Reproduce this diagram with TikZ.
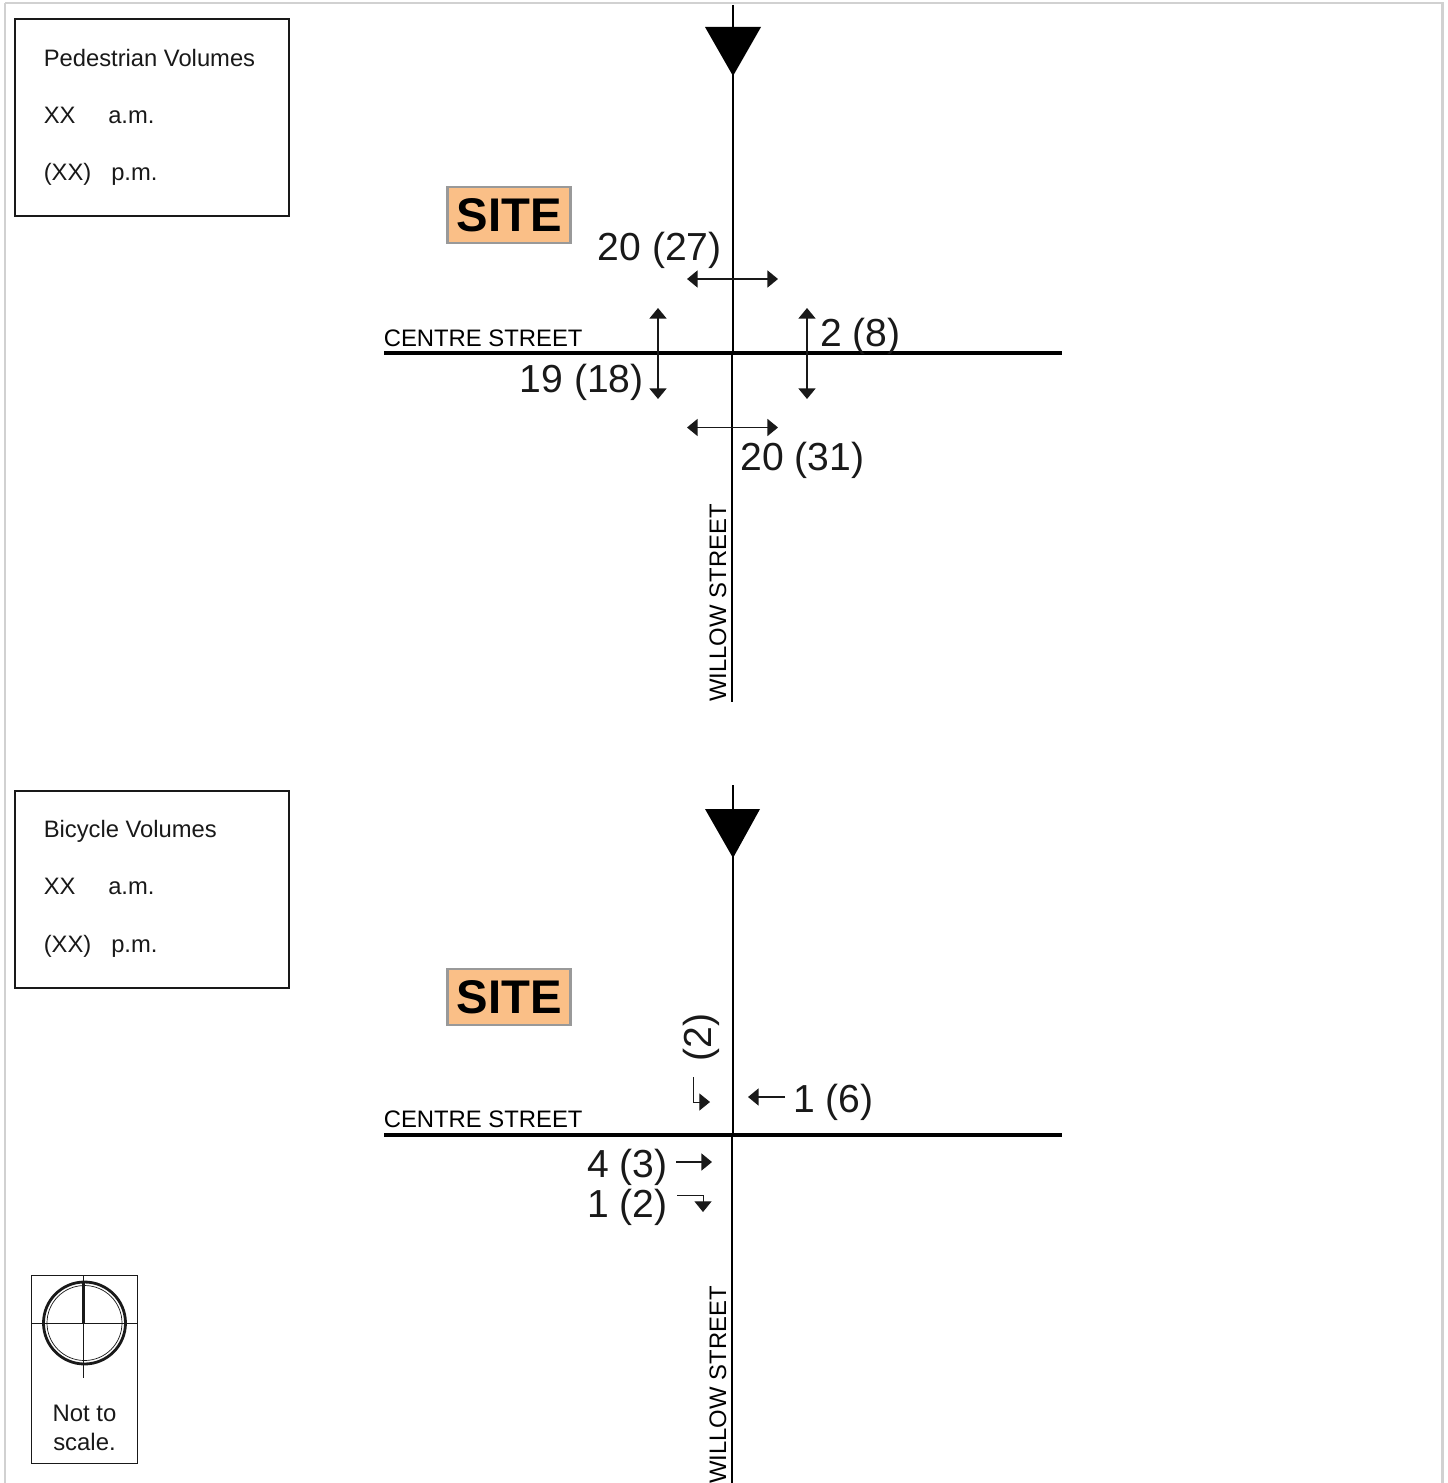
\documentclass[tikz,border=0pt]{standalone}
\usepackage{fontspec}
\setmainfont{Liberation Sans}
\usetikzlibrary{arrows.meta}
\definecolor{siteorange}{RGB}{250,191,135}
\tikzset{
    road/.style={line width=2.5pt, black},
    roadnarrow/.style={line width=2pt, black},
    flow/.style={line width=1.3pt, black!90, -{Triangle[length=7.5pt, width=12pt]}},
    flowboth/.style={line width=1.3pt, black!90, {Triangle[length=7.5pt, width=12pt]}-{Triangle[length=7.5pt, width=12pt]}},
    turnline/.style={line width=0.6pt, black!90, -{Triangle[length=7.5pt, width=12pt]}},
    count/.style={inner sep=0pt, font=\fontsize{27.8}{30}\selectfont, text=black!90},
    street/.style={inner sep=0pt, font=\fontsize{16.96}{20}\selectfont},
    legendtext/.style={inner sep=0pt, anchor=base west, font=\fontsize{16.9}{20}\selectfont, text=black!90},
    legendbox/.style={line width=1.4pt, black!90},
    sitebox/.style={draw=black!40, line width=1.7pt, fill=siteorange, minimum width=87.5pt, minimum height=40pt, inner sep=0pt, font=\fontsize{33.6}{36}\selectfont\bfseries},
    north/.style={fill=black, draw=none}
}
\begin{document}
\begin{tikzpicture}[x=0.025cm, y=-0.025cm]
    \useasboundingbox (0,0) rectangle (1447,1483);
    % Outer frame
    \draw[black!18, line width=1.9pt] (5,3) -- (1442.3,3) -- (1442.3,1483);
    \draw[black!18, line width=1.9pt] (5,3) -- (5,1483);

    % Pedestrian legend
    \draw[legendbox] (15,19) rectangle (289,216);
    \node[legendtext] (pedtitle) at (43.5,67) {Pedestrian Volumes};
    \node[legendtext] (pedam) at (43.5,124) {XX};
    \node[legendtext] (pedamlabel) at (108,124) {a.m.};
    \node[legendtext] (pedpm) at (43.5,181) {(XX)};
    \node[legendtext] (pedpmlabel) at (111,181) {p.m.};

    % Pedestrian intersection
    \draw[roadnarrow] (733,5) -- (733,353);
    \draw[roadnarrow] (732,353) -- (732,702);
    \draw[road] (384,353) -- (1062,353);
    \fill[north] (705,27) -- (761,27) -- (733,76) -- cycle;
    \node[sitebox] (sitetop) at (509,215) {SITE};
    \node[street, anchor=base west] (centretop) at (383.5,346) {CENTRE STREET};
    \node[street, anchor=base west, rotate=90] (willowtop) at (726,702) {WILLOW STREET};

    % Pedestrian crossings
    \draw[flowboth] (687,279) -- (778,279);
    \draw[flowboth] (687,427.5) -- (778,427.5);
    \draw[flowboth] (658,308) -- (658,399);
    \draw[flowboth] (807,308) -- (807,399);
    \node[count, anchor=base west] (pednorth) at (597.5,261) {20 (27)};
    \node[count, anchor=base west] (pedeast) at (820,346) {2 (8)};
    \node[count, anchor=base west] (pedwest) at (519.5,392) {19 (18)};
    \node[count, anchor=base west] (pedsouth) at (740,470) {20 (31)};

    % Bicycle legend
    \draw[legendbox] (15,791) rectangle (289,988);
    \node[legendtext] (biketitle) at (43.5,837) {Bicycle Volumes};
    \node[legendtext] (bikeam) at (43.5,894) {XX};
    \node[legendtext] (bikeamlabel) at (108,894) {a.m.};
    \node[legendtext] (bikepm) at (43.5,952) {(XX)};
    \node[legendtext] (bikepmlabel) at (111,952) {p.m.};

    % Bicycle intersection
    \draw[roadnarrow] (733,785) -- (733,1135);
    \draw[roadnarrow] (732,1135) -- (732,1483);
    \draw[road] (384,1135) -- (1062,1135);
    \fill[north] (705,809) -- (760,809) -- (733,858) -- cycle;
    \node[sitebox] (sitebottom) at (509,997) {SITE};
    \node[street, anchor=base west] (centrebottom) at (383.5,1127) {CENTRE STREET};
    \node[street, anchor=base west, rotate=90] (willowbottom) at (726,1484) {WILLOW STREET};

    % Bicycle movements
    \draw[turnline] (693,1077) -- (693,1102) -- (710,1102);
    \draw[flow] (785,1097) -- (748,1097);
    \draw[flow] (676,1162) -- (712,1162);
    \draw[turnline] (677,1195) -- (703,1195) -- (703,1212);
    \node[count, anchor=base west, rotate=90] (bikesouthbound) at (711,1062) {(2)};
    \node[count, anchor=base west] (bikewestbound) at (793,1112) {1 (6)};
    \node[count, anchor=base west] (bikethrough) at (587,1177) {4 (3)};
    \node[count, anchor=base west] (biketurn) at (587,1217) {1 (2)};

    % North arrow and scale note
    \draw[line width=0.6pt, black!90] (31,1275) rectangle (137,1463);
    \draw[line width=2pt, black!90] (84.5,1323) circle (41);
    \draw[line width=0.5pt, black!90] (84.5,1323) circle (37.5);
    \draw[line width=0.6pt, black!90] (31,1323) -- (137,1323);
    \draw[line width=0.6pt, black!90] (83.5,1275) -- (83.5,1378);
    \draw[line width=2.4pt, black!90] (83.5,1282) -- (83.5,1323);
    \node[inner sep=0pt, align=center, font=\fontsize{17}{20.7}\selectfont, text=black!90] (scalenote) at (84.5,1427.5) {Not to\\scale.};
\end{tikzpicture}
\end{document}
